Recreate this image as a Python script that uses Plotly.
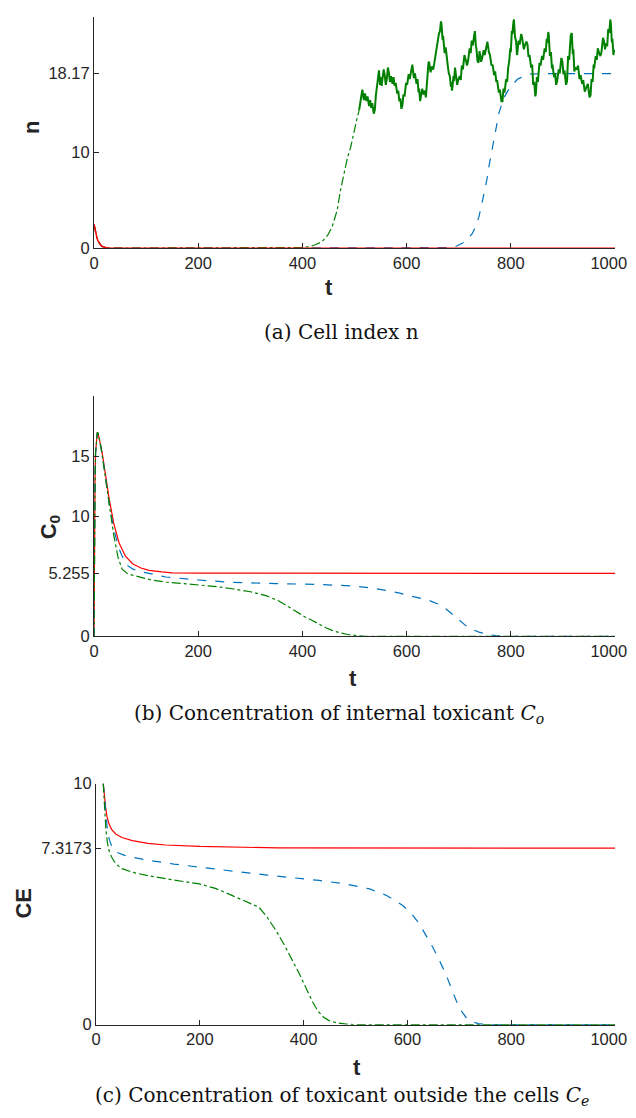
import plotly.graph_objects as go

# ---- (a) cell index n ----
n_red_t = [0, 2, 4, 6, 8, 10, 13, 16, 20, 25, 30, 1000]
n_red_v = [2.5, 1.9, 1.4, 1.0, 0.72, 0.5, 0.3, 0.17, 0.08, 0.03, 0, 0]

n_blue_t = [0, 2, 4, 6, 8, 10, 13, 16, 20, 25, 30, 600, 681, 695, 707, 717, 726, 733,
            739, 744, 749, 754, 758, 762, 765, 771, 777, 786, 797, 813, 835, 860, 1000]
n_blue_v = [2.5, 1.9, 1.4, 1.0, 0.72, 0.5, 0.3, 0.17, 0.08, 0.03, 0, 0, 0.05, 0.2, 0.5,
            0.95, 1.5, 2.3, 3.3, 4.5, 5.7, 7.1, 8.5, 9.6, 10.6, 12.3, 14.0, 15.6, 16.6,
            17.6, 18.1, 18.17, 18.17]

# smooth part of green (decay, then rise)
n_green_t = [0, 2, 4, 6, 8, 10, 13, 16, 20, 25, 30, 350, 380, 400, 413, 425, 438, 448,
             457, 462, 467, 473, 480, 486, 493, 499, 504, 509]
n_green_v = [2.5, 1.9, 1.4, 1.0, 0.72, 0.5, 0.3, 0.17, 0.08, 0.03, 0, 0, 0.02, 0.07,
             0.15, 0.35, 0.7, 1.3, 2.2, 3.0, 4.0, 6.0, 7.95, 9.3, 10.6, 11.9, 13.3, 14.4]

# noisy plateau of green
n_noise_t = [509, 512, 515, 518, 520, 523, 525, 528, 530, 532, 534, 537, 539, 541, 543,
             545, 547, 549, 550, 552, 553, 556, 558, 560, 562, 564, 566, 568, 570, 573,
             575, 577, 579, 582, 584, 586, 588, 590, 592, 594, 596, 599, 601, 604, 606,
             609, 611, 614, 616, 619, 621, 623, 624, 626, 627, 630, 632, 635, 637, 639,
             640, 642, 643, 646, 648, 651, 653, 656, 658, 660, 662, 664, 665, 666, 667,
             669, 670, 673, 675, 677, 679, 681, 683, 685, 686, 687, 688, 690, 691, 693,
             694, 697, 699, 702, 704, 706, 708, 711, 713, 716, 718, 721, 723, 725, 727,
             729, 731, 733, 734, 736, 738, 740, 741, 743, 745, 748, 750, 753, 755, 758,
             760, 763, 765, 768, 770, 772, 774, 777, 779, 782, 784, 786, 788, 791, 793,
             795, 797, 799, 800, 802, 803, 805, 806, 808, 810, 812, 813, 815, 817, 820,
             822, 825, 827, 830, 832, 834, 836, 839, 841, 843, 845, 847, 848, 850, 852,
             855, 857, 860, 862, 865, 867, 869, 870, 872, 873, 875, 877, 879, 880, 883,
             885, 887, 889, 892, 894, 897, 899, 901, 903, 906, 908, 910, 912, 915, 917,
             919, 920, 922, 924, 927, 929, 932, 934, 937, 939, 942, 944, 946, 948, 951,
             953, 955, 957, 959, 960, 963, 965, 967, 969, 972, 974, 977, 979, 981, 982,
             984, 985, 987, 989, 991, 992, 994, 995, 997, 998, 1000]
n_noise_v = [14.4, 15.6, 16.5, 15.4, 16.1, 15.3, 15.8, 14.8, 15.4, 14.6, 15.1, 14.0, 14.4,
             15.9, 16.8, 17.9, 18.5, 17.0, 17.8, 16.9, 17.5, 18.6, 18.0, 17.0, 17.6, 18.8,
             18.3, 17.3, 17.9, 17.1, 17.8, 16.9, 17.2, 16.1, 16.4, 15.3, 15.6, 14.5, 14.9,
             16.0, 15.8, 17.2, 17.0, 18.1, 17.6, 18.7, 19.1, 17.7, 18.2, 17.1, 17.6, 16.2,
             16.6, 15.3, 15.6, 16.6, 16.0, 16.4, 15.7, 17.4, 18.1, 19.3, 19.4, 18.3, 18.9,
             18.6, 19.2, 20.3, 20.9, 21.7, 22.3, 22.6, 23.1, 23.6, 23.3, 21.7, 22.1, 20.3,
             20.9, 19.6, 19.0, 18.2, 17.9, 16.8, 17.3, 16.4, 16.7, 17.9, 17.4, 18.8, 18.2,
             17.0, 17.5, 17.9, 17.5, 19.0, 18.6, 20.1, 19.7, 19.0, 19.5, 20.8, 20.3, 21.6,
             21.1, 22.0, 22.6, 21.0, 20.8, 19.5, 19.3, 20.5, 20.0, 19.4, 19.8, 20.6, 20.1,
             21.2, 21.5, 20.4, 20.1, 19.0, 19.1, 18.0, 18.4, 17.4, 17.4, 16.2, 16.5, 15.3,
             15.3, 16.6, 16.2, 17.6, 17.3, 18.8, 19.5, 20.8, 20.4, 22.6, 22.3, 23.5, 23.8,
             22.0, 21.6, 20.1, 20.5, 21.6, 21.2, 22.3, 21.8, 20.7, 21.1, 21.5, 21.2, 19.9,
             20.1, 18.8, 19.1, 17.0, 17.3, 15.8, 16.0, 17.8, 17.3, 19.3, 19.0, 20.0, 19.6,
             20.8, 20.4, 21.8, 21.4, 22.5, 22.1, 20.0, 20.4, 18.7, 19.1, 17.8, 18.2, 17.0,
             17.4, 18.6, 18.2, 19.8, 19.4, 18.1, 18.5, 17.0, 17.4, 20.0, 19.6, 22.1, 22.4,
             20.2, 20.7, 18.4, 18.8, 18.6, 19.0, 17.6, 18.0, 17.1, 17.5, 16.3, 16.7, 16.9,
             17.1, 15.7, 15.9, 17.6, 17.3, 19.1, 18.7, 20.0, 19.6, 20.8, 20.4, 20.0, 20.4,
             21.9, 21.5, 20.7, 21.1, 21.3, 21.0, 22.8, 22.4, 23.8, 23.4, 21.4, 21.8, 20.1,
             20.5, 20.6]

# ---- (b) internal toxicant C_o ----
c0_red_t = [0, 0.5, 1, 2, 3, 4.5, 6.4, 8, 10, 13, 16, 22, 29, 38, 48, 60, 74, 90, 106,
            130, 150, 200, 1000]
c0_red_v = [0, 5, 9, 13, 15.3, 16.5, 17.0, 16.9, 16.5, 15.9, 15.2, 13.5, 11.5, 9.4, 7.8,
            6.7, 6.05, 5.7, 5.5, 5.38, 5.3, 5.265, 5.255]

c0_blue_t = [0, 0.5, 1, 2, 3, 4.5, 6.4, 8, 10, 13, 16, 22, 29, 38, 48, 61, 75, 93, 115,
             138, 200, 265, 350, 432, 496, 530, 560, 585, 605, 625, 643, 660, 675, 685,
             694, 703, 713, 725, 739, 755, 771, 790, 800, 1000]
c0_blue_v = [0, 5, 9, 13, 15.3, 16.5, 17.0, 16.9, 16.5, 15.9, 15.1, 13.3, 11.1, 8.9, 7.3,
             6.0, 5.6, 5.36, 5.15, 4.95, 4.7, 4.5, 4.4, 4.33, 4.2, 4.05, 3.83, 3.63, 3.4,
             3.2, 3.0, 2.7, 2.3, 1.95, 1.6, 1.25, 0.92, 0.6, 0.36, 0.18, 0.06, 0.01, 0, 0]

c0_green_t = [0, 0.5, 1, 2, 3, 4.5, 6.4, 8, 10, 13, 16, 22, 29, 38, 46, 54, 65, 86, 110,
              138, 170, 202, 235, 265, 300, 330, 355, 374, 390, 406, 420, 432, 445, 457,
              472, 489, 505, 520, 1000]
c0_green_v = [0, 5, 9, 13, 15.3, 16.5, 17.0, 16.9, 16.5, 15.9, 15.0, 13.1, 10.8, 8.4, 6.6,
              5.6, 5.2, 4.95, 4.7, 4.53, 4.4, 4.3, 4.15, 3.97, 3.72, 3.4, 2.95, 2.45, 2.0,
              1.6, 1.3, 1.0, 0.72, 0.5, 0.3, 0.14, 0.05, 0, 0]

# ---- (c) toxicant outside the cells C_e ----
ce_red_t = [14, 16, 18.6, 21, 25, 30, 38, 50, 70, 100, 134, 200, 263, 350, 1000]
ce_red_v = [10, 9.5, 9.0, 8.65, 8.33, 8.1, 7.91, 7.76, 7.63, 7.52, 7.45, 7.39, 7.36, 7.33,
            7.3173]

ce_blue_t = [14, 15.5, 17, 19, 22, 26, 31, 40, 55, 70, 100, 150, 199, 260, 330, 430, 480,
             527, 560, 591, 608, 623, 636, 649, 662, 674, 684, 694, 703, 713, 725, 739,
             760, 1000]
ce_blue_v = [10, 9.6, 9.16, 8.6, 8.05, 7.65, 7.36, 7.15, 7.02, 6.94, 6.82, 6.66, 6.53,
             6.38, 6.2, 5.98, 5.84, 5.63, 5.36, 4.94, 4.6, 4.18, 3.72, 3.21, 2.65, 2.1,
             1.55, 1.0, 0.6, 0.3, 0.12, 0.03, 0, 0]

ce_green_t = [14, 15.5, 17, 19, 22, 25, 30, 38, 50, 70, 100, 134, 170, 199, 230, 263, 290,
              314, 330, 347, 363, 379, 392, 404, 416, 427, 438, 449, 465, 480, 500, 1000]
ce_green_v = [10, 9.4, 8.74, 8.1, 7.55, 7.22, 6.95, 6.67, 6.47, 6.32, 6.18, 6.05, 5.93,
              5.84, 5.65, 5.35, 5.1, 4.87, 4.45, 3.9, 3.3, 2.66, 2.1, 1.55, 1.0, 0.58,
              0.32, 0.17, 0.07, 0.03, 0, 0]

x_ticks = [0, 200, 400, 600, 800, 1000]
x_ticktext = ["0", "200", "400", "600", "800", "1000\u2007\u2009"]
n_yticks = [0, 10, 18.17]
c0_yticks = [0, 5.255, 10, 15]
ce_yticks = [0, 7.3173, 10]

# figure sits inside the page body; positions below are given in screen pixels
# and mapped back (offset / scale measured from a previous render)
W, H = 620, 1102
OX, OY, SY = 9, 17, 0.983
RED, BLUE, GREEN = "#FF0000", "#0072BD", "#008000"
AXC = "#262626"


def px(x):
    return (x - OX) / W


def py(y):
    return min(1, max(0, 1 - (y - OY) / SY / H))


fig = go.Figure()

def add_line(t, v, ax, color, dash, width=1.2):
    fig.add_trace(go.Scatter(x=t, y=v, xaxis="x" + ax, yaxis="y" + ax, mode="lines",
                             line=dict(color=color, dash=dash, width=width),
                             showlegend=False, hoverinfo="skip"))

# panel a
add_line(n_blue_t, n_blue_v, "", BLUE, "dash")
add_line(n_green_t, n_green_v, "", GREEN, "dashdot")
add_line(n_noise_t, n_noise_v, "", GREEN, "solid", 2)
add_line(n_red_t, n_red_v, "", RED, "solid", 1.5)
# panel b
add_line(c0_red_t, c0_red_v, "2", RED, "solid")
add_line(c0_blue_t, c0_blue_v, "2", BLUE, "dash")
add_line(c0_green_t, c0_green_v, "2", GREEN, "dashdot")
# panel c
add_line(ce_red_t, ce_red_v, "3", RED, "solid")
add_line(ce_blue_t, ce_blue_v, "3", BLUE, "dash")
add_line(ce_green_t, ce_green_v, "3", GREEN, "dashdot")

tickfont = dict(family="Liberation Sans, Arial", size=16.5, color=AXC)

def xax(dom, anchor):
    return dict(domain=dom, anchor=anchor, range=[0, 1000], tickvals=x_ticks,
                ticktext=x_ticktext, ticklabeloverflow="allow", automargin=False,
                ticks="inside", ticklen=5, tickcolor=AXC, showline=True,
                linecolor=AXC, linewidth=1, showgrid=False, zeroline=False,
                tickfont=tickfont, fixedrange=True)

def yax(dom, anchor, rng, tv):
    return dict(domain=dom, anchor=anchor, range=rng, tickvals=tv,
                ticktext=[str(v) for v in tv], ticks="inside", ticklen=5,
                tickcolor=AXC, showline=True, linecolor=AXC, linewidth=1,
                showgrid=False, zeroline=False, tickfont=tickfont, fixedrange=True)

fig.update_layout(
    width=W, height=H, margin=dict(l=0, r=0, t=0, b=0),
    plot_bgcolor="white", paper_bgcolor="white",
    xaxis=xax([px(95), px(616)], "y"),
    yaxis=yax([py(248), py(17)], "x", [0, 24.06], n_yticks),
    xaxis2=xax([px(95), px(616)], "y2"),
    yaxis2=yax([py(636), py(396)], "x2", [0, 20], c0_yticks),
    xaxis3=xax([px(97), px(616)], "y3"),
    yaxis3=yax([py(1024), py(783)], "x3", [0, 10], ce_yticks),
)

lab = dict(family="Liberation Sans, Arial", size=22, color=AXC)
cap = dict(family="DejaVu Serif", size=20, color="#111111")

def note(x, y, text, font, angle=0):
    fig.add_annotation(x=px(x), y=py(y), xref="paper", yref="paper", text=text,
                       showarrow=False, font=font, textangle=angle,
                       xanchor="center", yanchor="middle")

note(32, 128, "<b>n</b>", lab, -90)
note(330, 287, "<b>t</b>", lab)
note(342, 332, "(a) Cell index n", cap)

note(51, 527, "<b>C<sub>0</sub></b>", lab, -90)
note(354, 678, "<b>t</b>", lab)
note(340, 714, "(b) Concentration of internal toxicant <i>C<sub>o</sub></i>", cap)

note(25, 903, "<b>CE</b>", lab, -90)
note(358, 1067, "<b>t</b>", lab)
note(343, 1095, "(c) Concentration of toxicant outside the cells <i>C<sub>e</sub></i>", cap)

fig.write_html("out.html")
